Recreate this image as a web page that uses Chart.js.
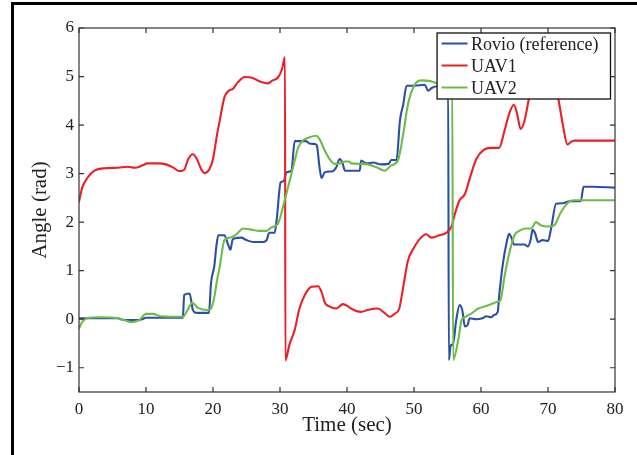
<!DOCTYPE html>
<html>
<head>
<meta charset="utf-8">
<script src="https://cdn.jsdelivr.net/npm/chart.js@4/dist/chart.umd.min.js"></script>
<style>
  html, body { margin: 0; padding: 0; background: #fff; overflow: hidden; }
  #wrap { position: relative; width: 637px; height: 455px; }
  #frame { position: absolute; left: 11px; top: 2px; width: 700px; height: 500px;
           border-left: 3px solid #000; border-top: 3px solid #000; pointer-events: none; }
  canvas { position: absolute; left: 0; top: 0; }
</style>
</head>
<body>
<div id="wrap">
  <canvas id="c" width="637" height="455"></canvas>
  <div id="frame"></div>
</div>
<script>
// Axis ticks
const xTicks = [0, 10, 20, 30, 40, 50, 60, 70, 80];
const yTicks = [-1, 0, 1, 2, 3, 4, 5, 6];

// Rovio (reference) yaw angle
const rovioT = [0, 5.8, 6.5, 8.8, 9.6, 10, 15.5, 15.7, 16.5, 17, 17.5, 19.4, 19.7, 20.2, 20.5, 20.8, 21.7, 22.2, 22.6, 22.9, 23.3, 24.2, 25, 26, 27.5, 28, 28.4, 29.2, 29.5, 30.1, 30.5, 31, 31.7, 32.2, 33.9, 34.4, 35.2, 35.5, 35.9, 36.2, 36.7, 37.9, 38.4, 38.9, 39.3, 39.7, 41.9, 42.1, 42.9, 43.9, 45.1, 46.2, 46.6, 47.4, 47.9, 48.4, 48.9, 50.1, 51.6, 52.1, 52.7, 53.5, 55.1, 55.2, 55.5, 55.8, 56.3, 56.8, 57.2, 57.6, 58, 58.3, 59.3, 60.2, 60.8, 61.5, 62, 62.5, 62.7, 63.2, 63.9, 64.2, 64.6, 64.9, 66.5, 67, 67.4, 67.7, 68.1, 68.5, 69.2, 70, 70.5, 71.2, 72.2, 73.2, 74.9, 75.3, 76.7, 80];
const rovioV = [0.02, 0.02, -0.01, -0.02, 0.01, 0.03, 0.03, 0.5, 0.53, 0.19, 0.13, 0.13, 0.74, 1.1, 1.5, 1.73, 1.73, 1.56, 1.43, 1.63, 1.67, 1.68, 1.63, 1.59, 1.59, 1.63, 1.78, 1.78, 2.04, 2.82, 2.84, 3.03, 3.06, 3.67, 3.67, 3.62, 3.61, 3.58, 3.13, 2.91, 3.03, 3.05, 3.13, 3.3, 3.23, 3.06, 3.06, 3.27, 3.21, 3.23, 3.19, 3.2, 3.28, 3.28, 4.09, 4.43, 4.81, 4.81, 4.83, 4.71, 4.77, 4.8, 4.8, -0.84, -0.53, -0.53, -0.02, 0.29, 0.19, -0.15, -0.12, 0.02, 0.0, 0.02, 0.06, 0.04, 0.09, 0.15, 0.46, 1.08, 1.63, 1.76, 1.66, 1.54, 1.54, 1.5, 1.63, 1.84, 1.76, 1.59, 1.63, 1.61, 1.9, 2.38, 2.39, 2.43, 2.43, 2.73, 2.73, 2.71];

// UAV1 estimate
const uav1T = [0, 0.5, 1.3, 2.3, 3.8, 5.8, 7.3, 8.3, 9.5, 10.2, 11.7, 13, 14, 15, 15.7, 16.3, 17, 17.6, 18.2, 18.7, 19.5, 20, 20.6, 21, 21.7, 22.4, 23, 23.7, 24.7, 25.7, 27, 28.2, 28.9, 29.7, 30.3, 30.75, 30.8, 31.4, 32.2, 32.9, 33.7, 34.7, 35.7, 36.2, 36.7, 37.4, 38.4, 39.4, 40.2, 40.6, 42.1, 43.1, 44.6, 45.6, 46.4, 47.1, 47.8, 48.4, 49.1, 49.9, 50.9, 51.8, 52.6, 53.8, 54.8, 55.6, 56.1, 56.8, 57.6, 58.3, 59.3, 60.4, 61.5, 62.7, 63.5, 64.2, 64.9, 65.4, 65.9, 66.5, 67.2, 68, 69, 70, 71, 71.5, 72.2, 72.9, 73.3, 73.9, 80];
const uav1V = [2.42, 2.72, 2.92, 3.06, 3.11, 3.12, 3.14, 3.12, 3.17, 3.21, 3.21, 3.19, 3.13, 3.05, 3.08, 3.3, 3.4, 3.3, 3.1, 3.01, 3.1, 3.3, 3.8, 4.09, 4.57, 4.71, 4.75, 4.88, 4.99, 4.98, 4.9, 4.86, 4.92, 4.98, 5.15, 5.4, -0.85, -0.53, -0.22, 0.22, 0.5, 0.67, 0.68, 0.56, 0.34, 0.26, 0.22, 0.31, 0.26, 0.22, 0.15, 0.19, 0.22, 0.13, 0.05, 0.11, 0.22, 0.67, 1.21, 1.45, 1.66, 1.75, 1.68, 1.73, 1.78, 1.91, 2.17, 2.45, 2.58, 2.89, 3.3, 3.49, 3.53, 3.53, 3.88, 4.23, 4.42, 4.23, 3.92, 4.09, 4.57, 4.88, 5.0, 4.95, 4.8, 4.57, 4.02, 3.6, 3.64, 3.68, 3.68];

// UAV2 estimate
const uav2T = [0, 0.5, 1.5, 2.8, 5.3, 6.8, 7.8, 9, 10, 11, 12.2, 13.7, 15.5, 16.2, 16.9, 17.7, 19.2, 19.7, 20.2, 20.6, 21, 21.7, 22.5, 23.5, 24.5, 25.5, 27, 28, 28.7, 29.7, 30.5, 31.45, 32.2, 32.7, 33.4, 34.4, 35.4, 35.9, 36.7, 37.4, 38.2, 38.9, 39.7, 40.3, 40.6, 42.1, 43.1, 44.4, 45.6, 46.6, 47.6, 48.4, 49.1, 50.1, 51.1, 52.3, 53.3, 55.7, 55.85, 56.6, 57.1, 57.7, 58.6, 59.6, 60.5, 61.5, 62.5, 62.9, 63.5, 64.2, 65, 65.7, 66.7, 67.5, 68.2, 69, 70, 70.9, 71.9, 72.9, 73.7, 80];
const uav2V = [-0.19, -0.05, 0.03, 0.04, 0.03, -0.02, -0.06, -0.02, 0.11, 0.11, 0.06, 0.05, 0.05, 0.19, 0.34, 0.24, 0.19, 0.22, 0.46, 0.8, 1.08, 1.63, 1.68, 1.75, 1.87, 1.85, 1.82, 1.82, 1.89, 1.97, 2.34, 2.86, 3.27, 3.53, 3.68, 3.75, 3.78, 3.71, 3.47, 3.3, 3.2, 3.21, 3.25, 3.25, 3.21, 3.2, 3.19, 3.13, 3.06, 3.17, 3.27, 3.82, 4.43, 4.83, 4.92, 4.91, 4.87, 4.9, -0.84, -0.43, -0.02, 0.05, 0.12, 0.22, 0.26, 0.31, 0.36, 0.39, 0.87, 1.35, 1.73, 1.82, 1.87, 1.87, 2.0, 1.93, 1.91, 1.93, 2.2, 2.39, 2.45, 2.45];

const zip = (ts, vs) => ts.map((t, i) => ({ x: t, y: vs[i] }));

const SERIF = '"Liberation Serif", "Times New Roman", serif';
const AXIS = '#333';

// Box around the plot with inward tick marks on all four sides
const boxPlugin = {
  id: 'box',
  afterDatasetsDraw(chart) {
    const { ctx, chartArea: a, scales } = chart;
    const L = 5;
    ctx.save();
    ctx.strokeStyle = AXIS;
    ctx.lineWidth = 1.2;
    ctx.strokeRect(a.left, a.top, a.right - a.left, a.bottom - a.top);
    ctx.beginPath();
    xTicks.forEach(v => {
      const px = scales.x.getPixelForValue(v);
      ctx.moveTo(px, a.bottom); ctx.lineTo(px, a.bottom - L);
      ctx.moveTo(px, a.top); ctx.lineTo(px, a.top + L);
    });
    yTicks.forEach(v => {
      const py = scales.y.getPixelForValue(v);
      ctx.moveTo(a.left, py); ctx.lineTo(a.left + L, py);
      ctx.moveTo(a.right, py); ctx.lineTo(a.right - L, py);
    });
    ctx.stroke();
    ctx.restore();
  }
};

// Legend box in the upper right corner of the plot, drawn over the data
const legendPlugin = {
  id: 'boxLegend',
  afterDatasetsDraw(chart) {
    const { ctx, chartArea: a } = chart;
    const sets = chart.data.datasets;
    ctx.save();
    ctx.font = '18px ' + SERIF;
    const textW = Math.max(...sets.map(d => ctx.measureText(d.label).width));
    const padL = 4.5, sample = 26, gap = 3.5, padR = 12, rowH = 22, padT = 10.5;
    const w = padL + sample + gap + textW + padR;
    const h = padT * 2 + rowH * (sets.length - 1) + 1;
    const x0 = a.right - 4.5 - w;
    const y0 = a.top + 5;
    ctx.fillStyle = '#fff';
    ctx.fillRect(x0, y0, w, h);
    ctx.strokeStyle = '#111';
    ctx.lineWidth = 1.3;
    ctx.strokeRect(x0, y0, w, h);
    sets.forEach((d, i) => {
      const cy = y0 + padT + rowH * i;
      ctx.strokeStyle = d.borderColor;
      ctx.lineWidth = 2;
      ctx.beginPath();
      ctx.moveTo(x0 + padL, cy);
      ctx.lineTo(x0 + padL + sample, cy);
      ctx.stroke();
      ctx.fillStyle = '#222';
      ctx.textBaseline = 'alphabetic';
      ctx.textAlign = 'left';
      ctx.fillText(d.label, x0 + padL + sample + gap, cy + 6.5);
    });
    ctx.restore();
  }
};

const lineSet = (label, data, color, order) => ({
  label, data, borderColor: color, backgroundColor: color,
  borderWidth: 2.1, pointRadius: 0, cubicInterpolationMode: 'monotone',
  fill: false, order, borderJoinStyle: 'round', borderCapStyle: 'round'
});

new Chart(document.getElementById('c'), {
  type: 'line',
  data: {
    datasets: [
      lineSet('Rovio (reference)', zip(rovioT, rovioV), '#2c4fa6', 3),
      lineSet('UAV1', zip(uav1T, uav1V), '#ec1f26', 2),
      lineSet('UAV2', zip(uav2T, uav2V), '#6cbd45', 1)
    ]
  },
  options: {
    responsive: false,
    animation: false,
    devicePixelRatio: 1,
    layout: { padding: { top: 28, right: 22, left: 0, bottom: 0 } },
    plugins: { legend: { display: false }, tooltip: { enabled: false } },
    scales: {
      x: {
        type: 'linear', min: 0, max: 80,
        grid: { display: false, drawTicks: false },
        border: { display: false },
        afterBuildTicks: s => { s.ticks = xTicks.map(v => ({ value: v })); },
        afterFit: s => { s.height = 63; },
        ticks: { color: '#222', font: { family: SERIF, size: 17 }, padding: 7, maxRotation: 0, autoSkip: false },
        title: { display: true, text: 'Time (sec)', color: '#222', font: { family: SERIF, size: 21 }, padding: { top: 0, bottom: 17 } }
      },
      y: {
        type: 'linear', min: -1.5, max: 6,
        grid: { display: false, drawTicks: false },
        border: { display: false },
        afterBuildTicks: s => { s.ticks = yTicks.map(v => ({ value: v })); },
        afterFit: s => { s.width = 79; },
        ticks: {
          color: '#222', font: { family: SERIF, size: 17 }, padding: 5, autoSkip: false,
          callback: v => (v < 0 ? '\u2212' + Math.abs(v) : String(v))
        },
        title: { display: true, text: 'Angle (rad)', color: '#222', font: { family: SERIF, size: 21 }, padding: { top: 28, bottom: 0 } }
      }
    }
  },
  plugins: [boxPlugin, legendPlugin]
});
</script>
</body>
</html>
